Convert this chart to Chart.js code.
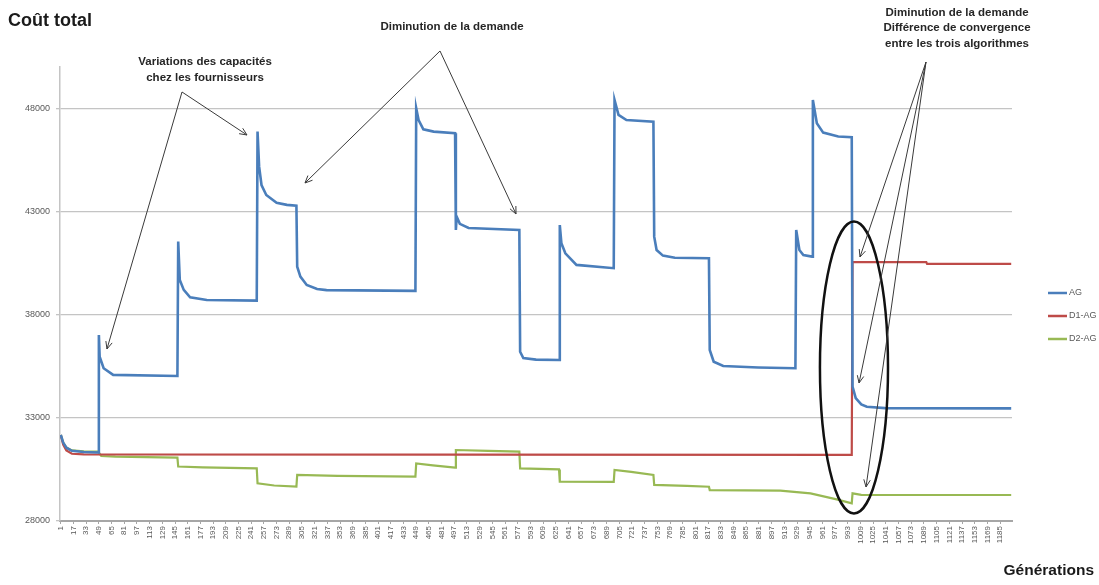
<!DOCTYPE html>
<html>
<head>
<meta charset="utf-8">
<script src="https://cdn.jsdelivr.net/npm/chart.js@4"></script>
<style>
  body { margin: 0; background: #fff; }
</style>
</head>
<body>
<canvas id="chart" width="1099" height="585"></canvas>
<script>
// x = génération, y = coût total
const ag = [
  [1, 32170], [4, 31800], [8, 31550], [15, 31400], [30, 31340], [48, 31320],
  [49, 37010], [50, 35960], [55, 35400], [67, 35080], [148, 35030],
  [149, 41540], [151, 39680], [156, 39200], [164, 38840], [185, 38710], [248, 38680],
  [249, 46870], [251, 45170], [254, 44280], [260, 43800], [273, 43420], [286, 43320], [298, 43280],
  [299, 40320], [303, 39840], [311, 39440], [324, 39240], [336, 39190], [448, 39150],
  [449, 48000], [452, 47430], [458, 46980], [471, 46870], [498, 46790],
  [499, 42100], [500, 42750], [504, 42400], [515, 42200], [579, 42100],
  [580, 36200], [584, 35900], [600, 35820], [629, 35800],
  [630, 42340], [632, 41460], [637, 40970], [651, 40410], [698, 40250],
  [699, 48400], [704, 47680], [714, 47430], [748, 47350],
  [749, 41780], [752, 41130], [760, 40860], [775, 40760], [818, 40730],
  [819, 36290], [824, 35720], [836, 35510], [880, 35440], [927, 35400],
  [928, 42100], [932, 41130], [937, 40890], [948, 40810],
  [949, 48400], [954, 47270], [962, 46820], [981, 46630], [998, 46600],
  [999, 34510], [1003, 33950], [1010, 33650], [1017, 33540], [1040, 33470], [1199, 33460]
];
const d1ag = [
  [1, 32170], [4, 31700], [8, 31420], [15, 31260], [30, 31230], [500, 31220], [998, 31200],
  [999, 40540], [1092, 40540], [1093, 40460], [1199, 40460]
];
const d2ag = [
  [1, 32170], [4, 31800], [8, 31560], [15, 31420], [30, 31370], [48, 31360],
  [52, 31150], [70, 31120], [148, 31070],
  [149, 30640], [180, 30600], [248, 30550],
  [249, 29830], [270, 29720], [298, 29670],
  [299, 30230], [350, 30190], [448, 30150],
  [449, 30790], [470, 30700], [498, 30590],
  [499, 31440], [540, 31400], [579, 31360],
  [580, 30550], [629, 30500],
  [630, 29910], [698, 29900],
  [699, 30470], [720, 30380], [748, 30230],
  [749, 29750], [790, 29700], [818, 29660],
  [819, 29500], [908, 29470], [946, 29340], [979, 29050], [998, 28860],
  [999, 29340], [1010, 29270], [1199, 29260]
];
const seriesNames = ["AG", "D1-AG", "D2-AG"];
const seriesColors = ["#4a7ebb", "#be4b48", "#98b954"];
const genTicks = [];
for (let g = 1; g <= 1185; g += 16) genTicks.push(g);
const costTicks = [28000, 33000, 38000, 43000, 48000];

// annotation anchors in data units (génération, coût)
const notes = [
  { lines: ["Variations des capacités", "chez les fournisseurs"], at: [182.8, 50243], gap: 16,
    from: [153.8, 48789], to: [[59.2, 36335], [235.7, 46705]] },
  { lines: ["Diminution de la demande"], at: [494.1, 51939], gap: 16,
    from: [479, 50776], to: [[308.8, 44379], [574.8, 42877]] },
  { lines: ["Diminution de la demande", "Différence de convergence", "entre les trois algorithmes"],
    at: [1130.7, 52632], gap: 15.5,
    from: [1091.6, 50243], to: [[1008.4, 40793], [1007.2, 34687], [1016, 29648]] }
];
const ring = { center: [1000.8, 35438], rx: 42.9, ry: 7075 };

const toXY = arr => arr.map(p => ({ x: p[0], y: p[1] }));

function arrow(ctx, x1, y1, x2, y2) {
  const a = Math.atan2(y2 - y1, x2 - x1);
  const L = 8, w = 0.42;
  ctx.beginPath();
  ctx.moveTo(x1, y1);
  ctx.lineTo(x2, y2);
  ctx.moveTo(x2 - L * Math.cos(a - w), y2 - L * Math.sin(a - w));
  ctx.lineTo(x2, y2);
  ctx.lineTo(x2 - L * Math.cos(a + w), y2 - L * Math.sin(a + w));
  ctx.stroke();
}

const extras = {
  id: "extras",
  afterDatasetsDraw(chart) {
    const ctx = chart.ctx;
    const xs = chart.scales.x, ys = chart.scales.y;
    const X = v => xs.getPixelForValue(v), Y = v => ys.getPixelForValue(v);
    ctx.save();
    // ellipse
    ctx.strokeStyle = "#111";
    ctx.lineWidth = 2.5;
    ctx.beginPath();
    ctx.ellipse(X(ring.center[0]), Y(ring.center[1]),
      X(ring.rx) - X(0), Y(0) - Y(ring.ry), 0, 0, Math.PI * 2);
    ctx.stroke();
    // arrows + texts
    ctx.strokeStyle = "#3a3a3a";
    ctx.lineWidth = 1;
    notes.forEach(n => {
      n.to.forEach(t => arrow(ctx, X(n.from[0]), Y(n.from[1]), X(t[0]), Y(t[1])));
      ctx.fillStyle = "#262626";
      ctx.font = "bold 11.5px 'Liberation Sans', Arial, sans-serif";
      ctx.textAlign = "center";
      ctx.textBaseline = "middle";
      n.lines.forEach((s, i) => ctx.fillText(s, X(n.at[0]), Y(n.at[1]) + i * n.gap));
    });
    // titles
    ctx.fillStyle = "#1a1a1a";
    ctx.textAlign = "left";
    ctx.font = "bold 18px 'Liberation Sans', Arial, sans-serif";
    ctx.fillText("Coût total", 8, 21);
    ctx.textAlign = "right";
    ctx.font = "bold 15.5px 'Liberation Sans', Arial, sans-serif";
    ctx.fillText("Générations", 1094, 571);
    // legend
    const area = chart.chartArea;
    ctx.textAlign = "left";
    ctx.font = "9px 'Liberation Sans', Arial, sans-serif";
    chart.data.datasets.forEach((ds, i) => {
      const y = 293 + i * 23;
      ctx.strokeStyle = ds.borderColor;
      ctx.lineWidth = 2.5;
      ctx.beginPath();
      ctx.moveTo(area.right + 36, y);
      ctx.lineTo(area.right + 55, y);
      ctx.stroke();
      ctx.fillStyle = "#595959";
      ctx.fillText(ds.label, area.right + 57, y);
    });
    ctx.restore();
  }
};

const config = {
  type: "line",
  data: {
    datasets: [ag, d1ag, d2ag].map((s, i) => ({
      label: seriesNames[i],
      data: toXY(s),
      borderColor: seriesColors[i],
      backgroundColor: seriesColors[i],
      borderWidth: i === 0 ? 2.6 : 2.2,
      pointRadius: 0,
      tension: 0,
      fill: false
    }))
  },
  options: {
    responsive: false,
    animation: false,
    layout: { padding: { top: 67, right: 87, left: 0, bottom: 0 } },
    plugins: { legend: { display: false }, tooltip: { enabled: false } },
    scales: {
      x: {
        type: "linear",
        min: 0,
        max: 1200,
        afterBuildTicks: axis => { axis.ticks = genTicks.map(v => ({ value: v })); },
        afterFit: scale => { scale.height = 64; },
        ticks: {
          autoSkip: false,
          minRotation: 90,
          maxRotation: 90,
          padding: 2,
          color: "#595959",
          font: { family: "'Liberation Sans', Arial, sans-serif", size: 8 },
          callback: v => String(v)
        },
        grid: { drawOnChartArea: false, tickLength: 3, color: "#a6a6a6" },
        border: { color: "#a6a6a6", width: 2 }
      },
      y: {
        min: 28000,
        max: 50000,
        afterBuildTicks: axis => { axis.ticks = costTicks.map(v => ({ value: v })); },
        afterFit: scale => { scale.width = 60; },
        ticks: {
          padding: 6,
          color: "#595959",
          font: { family: "'Liberation Sans', Arial, sans-serif", size: 9 },
          callback: v => String(v)
        },
        grid: { color: "#c4c4c4", lineWidth: 1.3, tickLength: 4 },
        border: { color: "#c4c4c4", width: 1.5 }
      }
    }
  },
  plugins: [extras]
};

const myChart = new Chart(document.getElementById("chart"), config);
</script>
</body>
</html>
